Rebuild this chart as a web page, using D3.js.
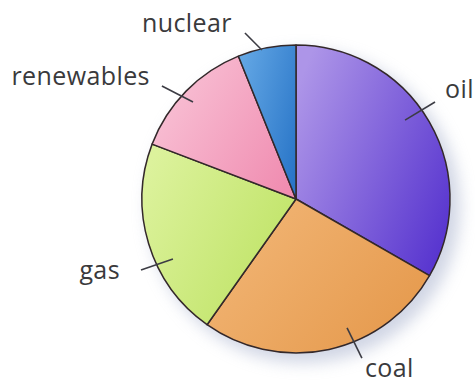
<!DOCTYPE html>
<html><head><meta charset="utf-8">
<script src="https://cdn.jsdelivr.net/npm/d3@7"></script>
<style>html,body{margin:0;padding:0;background:#fff;}svg{display:block;}</style>
</head><body>
<script>
// Data (clockwise from 12 o'clock), approximate shares in %
const categories = ["oil", "coal", "gas", "renewables", "nuclear"];
const values = [33.3, 26.5, 21.0, 13.1, 6.1];
// Slice colours: lighter / darker end of each gradient
const lightColors = ["#ad95e8", "#f2b676", "#dcf29c", "#f9c4d7", "#62a6e4"];
const darkColors  = ["#5835cf", "#e5994c", "#bde262", "#f08db1", "#2a76c8"];
// Label leader placement: angle (deg, clockwise from top), inner/outer radius, text offset
const labelAngle = [[54.1, 55.1], [158.4, 157.5], [244, 245.4], [313.3, 310.1], [347.1, 342.9]];
const labelR = [[134.6, 169.5], [138.7, 172.2], [136.9, 170.5], [141.5, 175.3], [152.8, 173.7]];
const labelOffset = [[10, -4, "start"], [3, 19, "start"], [-21, 9, "end"], [-12, -1, "end"], [-13, -1, "end"]];

const W = 475, H = 384, cx = 296, cy = 199, R = 154;
const svg = d3.select("body").append("svg").attr("width", W).attr("height", H);
const defs = svg.append("defs");

const blur = defs.append("filter").attr("id", "shadow").attr("x", "-30%").attr("y", "-30%").attr("width", "160%").attr("height", "160%");
blur.append("feGaussianBlur").attr("stdDeviation", 8);

const data = categories.map((c, i) => ({name: c, value: values[i], i}));
const pie = d3.pie().sort(null).value(d => d.value);
const arcs = pie(data);
const arc = d3.arc().innerRadius(0).outerRadius(R);

arcs.forEach((a, i) => {
  const g = defs.append("linearGradient").attr("id", "g" + i)
    .attr("x1", "0%").attr("y1", "20%").attr("x2", "100%").attr("y2", "80%");
  g.append("stop").attr("offset", "0%").attr("stop-color", lightColors[i]);
  g.append("stop").attr("offset", "100%").attr("stop-color", darkColors[i]);
});

const root = svg.append("g").attr("transform", `translate(${cx},${cy})`);
// soft shadow
root.append("circle").attr("cx", 8).attr("cy", 8).attr("r", R + 2)
  .attr("fill", "#aab4cf").attr("opacity", 0.55).attr("filter", "url(#shadow)");

root.selectAll("path.slice").data(arcs).join("path")
  .attr("class", "slice")
  .attr("d", arc)
  .attr("fill", (d, i) => `url(#g${i})`)
  .attr("stroke", "#33282a").attr("stroke-width", 1.5).attr("stroke-linejoin", "round");

const pol = (deg, r) => {
  const t = deg * Math.PI / 180;
  return [r * Math.sin(t), -r * Math.cos(t)];
};

const labels = root.selectAll("g.label").data(arcs).join("g").attr("class", "label");
labels.append("line")
  .attr("x1", (d, i) => pol(labelAngle[i][0], labelR[i][0])[0])
  .attr("y1", (d, i) => pol(labelAngle[i][0], labelR[i][0])[1])
  .attr("x2", (d, i) => pol(labelAngle[i][1], labelR[i][1])[0])
  .attr("y2", (d, i) => pol(labelAngle[i][1], labelR[i][1])[1])
  .attr("stroke", "#3c3c44").attr("stroke-width", 1.6);
labels.append("text")
  .attr("x", (d, i) => pol(labelAngle[i][1], labelR[i][1])[0] + labelOffset[i][0])
  .attr("y", (d, i) => pol(labelAngle[i][1], labelR[i][1])[1] + labelOffset[i][1])
  .attr("text-anchor", (d, i) => labelOffset[i][2])
  .attr("font-family", "'Open Sans', sans-serif")
  .attr("font-size", 25)
  .attr("letter-spacing", 0.4)
  .attr("fill", "#3a3a3c")
  .text(d => d.data.name);
</script>
</body></html>
